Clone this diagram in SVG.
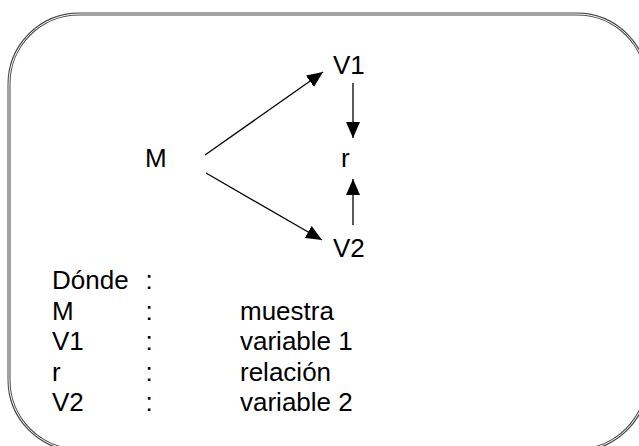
<svg xmlns="http://www.w3.org/2000/svg" width="639" height="446" viewBox="0 0 639 446">
  <defs>
    <style>
      .frame-outer { fill: none; stroke: #444; stroke-width: 3; }
      .frame-inner { fill: none; stroke: #fff; stroke-width: 1; }
      .edge { stroke: #000; stroke-width: 1.3; fill: none; }
      .lbl { font-family: "Liberation Sans", Arial, sans-serif; font-size: 26px; fill: #000; }
    </style>
    <marker id="arrow" viewBox="0 0 16 14" refX="16" refY="7" markerWidth="16" markerHeight="14" markerUnits="userSpaceOnUse" orient="auto">
      <path d="M0,0 L16,7 L0,14 Z" fill="#000"/>
    </marker>
  </defs>

  <rect id="background" x="0" y="0" width="639" height="446" fill="#fff"/>

  <!-- rounded double-line frame -->
  <g id="frame">
    <rect class="frame-outer" x="9" y="14" width="638" height="436" rx="70" ry="70"/>
    <rect class="frame-inner" x="9" y="14" width="638" height="436" rx="70" ry="70"/>
  </g>

  <g id="connectors">
    <line class="edge" x1="205" y1="155" x2="323" y2="72" marker-end="url(#arrow)"/>
    <line class="edge" x1="206" y1="173" x2="322" y2="240" marker-end="url(#arrow)"/>
    <line class="edge" x1="353" y1="83" x2="353" y2="138" marker-end="url(#arrow)"/>
    <line class="edge" x1="353" y1="225" x2="353" y2="179" marker-end="url(#arrow)"/>
  </g>

  <g id="node-V1"><text class="lbl" x="333" y="74">V1</text></g>
  <g id="node-M"><text class="lbl" x="145" y="167">M</text></g>
  <g id="node-r"><text class="lbl" x="341" y="167">r</text></g>
  <g id="node-V2"><text class="lbl" x="333" y="257">V2</text></g>

  <g id="legend">
    <text class="lbl" x="52" y="289">Dónde</text>
    <text class="lbl" x="145.5" y="289">:</text>
    <text class="lbl" x="52" y="320">M</text>
    <text class="lbl" x="145.5" y="320">:</text>
    <text class="lbl" x="240" y="320">muestra</text>
    <text class="lbl" x="52" y="350">V1</text>
    <text class="lbl" x="145.5" y="350">:</text>
    <text class="lbl" x="240" y="350">variable 1</text>
    <text class="lbl" x="52" y="381">r</text>
    <text class="lbl" x="145.5" y="381">:</text>
    <text class="lbl" x="240" y="381">relación</text>
    <text class="lbl" x="52" y="411">V2</text>
    <text class="lbl" x="145.5" y="411">:</text>
    <text class="lbl" x="240" y="411">variable 2</text>
  </g>
</svg>
